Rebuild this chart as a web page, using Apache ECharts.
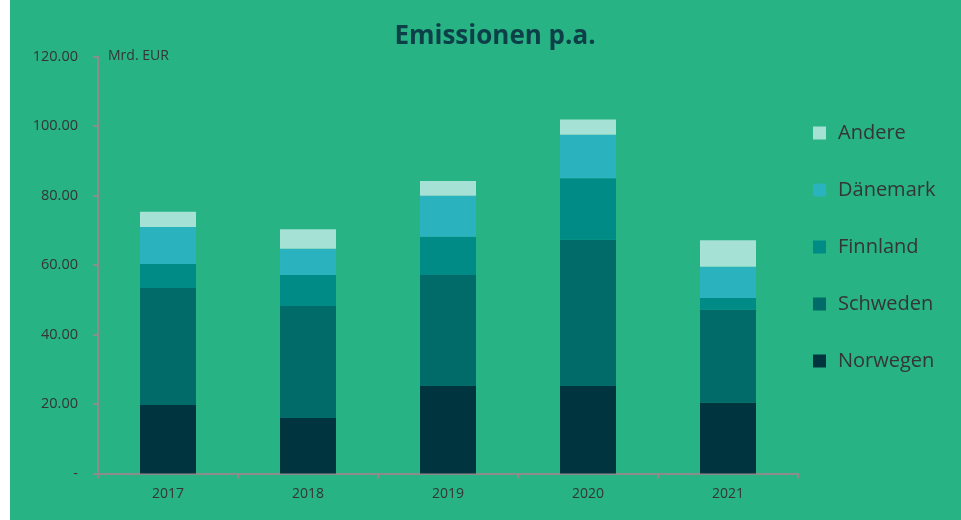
<!DOCTYPE html>
<html>
<head>
<meta charset="utf-8">
<script src="https://cdn.jsdelivr.net/npm/echarts@6/dist/echarts.min.js"></script>
<style>
  html, body { margin: 0; padding: 0; background: #ffffff; }
  #chart { position: absolute; left: 10px; top: 0; width: 951px; height: 520px; background: #27b383; }
</style>
</head>
<body>
<div id="chart"></div>
<script>
// Jahre und Werte (Mrd. EUR)
var years = ["2017", "2018", "2019", "2020", "2021"];
var norwegen = [19.7, 16.0, 25.2, 25.2, 20.4];
var schweden = [33.7, 32.2, 31.9, 42.1, 26.7];
var finnland = [6.9, 8.9, 11.0, 17.7, 3.4];
var daenemark = [10.6, 7.6, 11.8, 12.5, 9.0];
var andere = [4.4, 5.6, 4.3, 4.4, 7.6];
var yTicks = [0, 20, 40, 60, 80, 100, 120];

var textColor = "#353535";
var axisColor = "#8c8c8c";

var chart = echarts.init(document.getElementById("chart"));

function bar(name, data, color) {
  return {
    name: name,
    type: "bar",
    stack: "total",
    barWidth: "40%",
    data: data,
    itemStyle: { color: color },
  };
}

chart.setOption({
  animation: false,
  textStyle: { fontFamily: "Open Sans" },
  //标题
  title: {
    text: "Emissionen p.a.",
    left: 480,
    top: 19,
    textAlign: "center",
    textStyle: { color: "#0d3f48", fontSize: 26, fontWeight: "bold", fontFamily: "Open Sans" },
  },
  grid: { left: 88, right: 163, top: 56.5, bottom: 46.5 },
  legend: {
    orient: "vertical",
    left: 798,
    top: 118,
    itemWidth: 13,
    itemHeight: 13,
    itemGap: 37,
    icon: "rect",
    data: ["Andere", "Dänemark", "Finnland", "Schweden", "Norwegen"],
    textStyle: { color: textColor, fontSize: 20, lineHeight: 20, padding: [0, 0, 0, 7] },
  },
  xAxis: {
    type: "category",
    data: years,
    axisLine: { lineStyle: { color: axisColor, width: 2 } },
    axisTick: { show: true, length: 5, lineStyle: { color: axisColor, width: 2 } },
    axisLabel: { color: textColor, fontSize: 14, margin: 14 },
  },
  yAxis: {
    type: "value",
    min: yTicks[0],
    max: yTicks[yTicks.length - 1],
    interval: 20,
    name: "Mrd. EUR",
    nameLocation: "end",
    nameGap: 0,
    nameTextStyle: { color: textColor, fontSize: 14, align: "left", verticalAlign: "middle", padding: [0, 0, 0, 10] },
    splitLine: { show: false },
    axisLine: { show: true, lineStyle: { color: axisColor, width: 2 } },
    axisTick: { show: true, length: 5, lineStyle: { color: axisColor, width: 2 } },
    axisLabel: {
      color: textColor,
      fontSize: 14.5,
      margin: 20,
      formatter: function (v) { return v === 0 ? "-" : v.toFixed(2); },
    },
  },
  series: [
    bar("Norwegen", norwegen, "#00343f"),
    bar("Schweden", schweden, "#006b68"),
    bar("Finnland", finnland, "#008b86"),
    bar("Dänemark", daenemark, "#2ab3bf"),
    bar("Andere", andere, "#a5e1d4"),
  ],
});
</script>
</body>
</html>
